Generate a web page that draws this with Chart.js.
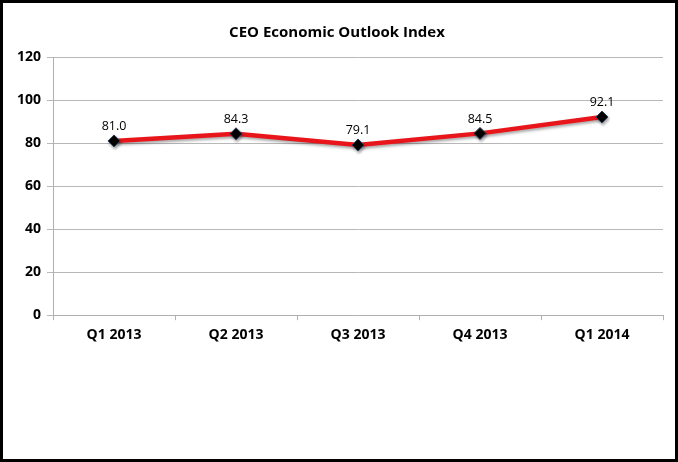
<!DOCTYPE html>
<html>
<head>
<meta charset="utf-8">
<script src="https://cdn.jsdelivr.net/npm/chart.js@4"></script>
<style>
  html, body { margin: 0; padding: 0; background: #fff; }
  #frame {
    position: absolute; left: 0; top: 0;
    width: 678px; height: 462px;
    box-sizing: border-box;
    border: 3px solid #000;
    background: #fff;
  }
  #chart { display: block; }
</style>
</head>
<body>
<div id="frame">
  <canvas id="chart" width="672" height="456"></canvas>
</div>
<script>
const quarters = ["Q1 2013", "Q2 2013", "Q3 2013", "Q4 2013", "Q1 2014"];
const outlookIndex = [81.0, 84.3, 79.1, 84.5, 92.1];
const yTicks = [0, 20, 40, 60, 80, 100, 120];

// value labels above each diamond
const valueLabels = {
  id: "valueLabels",
  afterDatasetsDraw(chart) {
    const ctx = chart.ctx;
    const meta = chart.getDatasetMeta(0);
    ctx.save();
    ctx.font = "12.5px 'Open Sans', sans-serif";
    ctx.fillStyle = "#000";
    ctx.textAlign = "center";
    ctx.textBaseline = "bottom";
    meta.data.forEach((pt, i) => {
      ctx.fillText(outlookIndex[i].toFixed(1), pt.x, pt.y - 8);
    });
    ctx.restore();
  }
};

// soft shadow under the red line like the original
const lineShadow = {
  id: "lineShadow",
  beforeDatasetDraw(chart) {
    const ctx = chart.ctx;
    ctx.save();
    ctx.shadowColor = "rgba(0,0,0,0.35)";
    ctx.shadowBlur = 3;
    ctx.shadowOffsetX = 1;
    ctx.shadowOffsetY = 2;
  },
  afterDatasetDraw(chart) {
    chart.ctx.restore();
  }
};

new Chart(document.getElementById("chart"), {
  type: "line",
  data: {
    labels: quarters,
    datasets: [{
      label: "CEO Economic Outlook Index",
      data: outlookIndex,
      borderColor: "#e8161b",
      borderWidth: 4.5,
      tension: 0,
      pointStyle: "rectRot",
      pointRadius: 6,
      pointBackgroundColor: "#000",
      pointBorderColor: "#2c3e5c",
      pointBorderWidth: 1
    }]
  },
  options: {
    responsive: false,
    animation: false,
    devicePixelRatio: 1,
    layout: { padding: { left: 8, right: 12, top: 6, bottom: 110 } },
    plugins: {
      legend: { display: false },
      tooltip: { enabled: false },
      title: {
        display: true,
        text: "CEO Economic Outlook Index",
        color: "#000",
        font: { family: "'Open Sans', sans-serif", size: 15, weight: "bold" },
        padding: { top: 15, bottom: 15 }
      }
    },
    scales: {
      x: {
        offset: true,
        grid: {
          offset: true,
          drawOnChartArea: false,
          color: "#b0b0b0",
          tickLength: 5
        },
        border: { color: "#b0b0b0", width: 1 },
        ticks: {
          color: "#000",
          padding: 6,
          maxRotation: 0,
          font: { family: "'Open Sans', sans-serif", size: 14, weight: "bold" }
        }
      },
      y: {
        min: 0,
        max: 120,
        afterBuildTicks(axis) {
          axis.ticks = yTicks.map(v => ({ value: v }));
        },
        grid: { color: "#b8b8b8", tickLength: 6 },
        border: { color: "#b0b0b0", width: 1 },
        ticks: {
          color: "#000",
          padding: 6,
          font: { family: "'Open Sans', sans-serif", size: 14, weight: "bold" }
        }
      }
    }
  },
  plugins: [lineShadow, valueLabels]
});
</script>
</body>
</html>
